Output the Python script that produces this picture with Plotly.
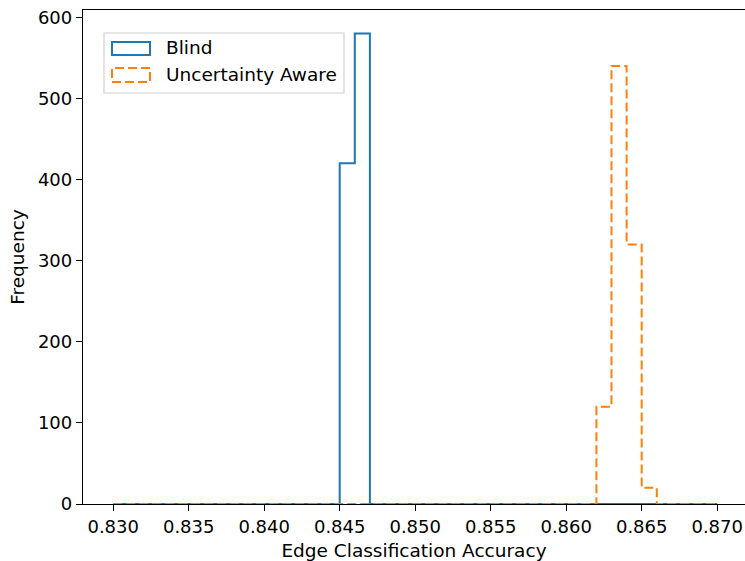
import numpy as np
import plotly.graph_objects as go

# Histogram bins (range 0.830-0.870, 40 bins of width 0.001)
bin_start = 0.830
bin_end = 0.870
n_bins = 40

# Non-zero bin counts: {bin left edge: count}
blind_counts = {0.845: 420, 0.846: 580}
aware_counts = {0.862: 120, 0.863: 540, 0.864: 320, 0.865: 20}

series_names = ["Blind", "Uncertainty Aware"]
x_tick_values = [0.830, 0.835, 0.840, 0.845, 0.850, 0.855, 0.860, 0.865, 0.870]
y_tick_values = [0, 100, 200, 300, 400, 500, 600]

edges = np.linspace(bin_start, bin_end, n_bins + 1)


def counts_array(d):
    c = np.zeros(n_bins)
    for left, v in d.items():
        i = int(round((left - bin_start) / (edges[1] - edges[0])))
        c[i] = v
    return c


def step_path(counts):
    xs = np.repeat(edges, 2)
    ys = np.concatenate([[0], np.repeat(counts, 2), [0]])
    return xs, ys


BLUE = "#1f77b4"
ORANGE = "#ff7f0e"
FONT = "DejaVu Sans"

fig = go.Figure()
bx, by = step_path(counts_array(blind_counts))
ax, ay = step_path(counts_array(aware_counts))
fig.add_trace(go.Scatter(x=bx, y=by, mode="lines", name=series_names[0],
                         line=dict(color=BLUE, width=2), showlegend=False,
                         hoverinfo="skip"))
fig.add_trace(go.Scatter(x=ax, y=ay, mode="lines", name=series_names[1],
                         line=dict(color=ORANGE, width=2, dash="9px,4px"),
                         showlegend=False, hoverinfo="skip"))

L, T, W, H = 83, 10, 745, 561
B = 57
pw = W - L
ph = H - T - B


def px(x):
    return (x - L) / pw


def py(y):
    return (H - B - y) / ph


# manual matplotlib-style legend
shapes = [
    dict(type="rect", xref="paper", yref="paper", x0=px(104), x1=px(344),
         y0=py(93), y1=py(33), line=dict(color="#d0d0d0", width=1.2),
         fillcolor="rgba(255,255,255,0.8)", layer="above"),
    dict(type="rect", xref="paper", yref="paper", x0=px(112), x1=px(150),
         y0=py(55), y1=py(42), line=dict(color=BLUE, width=2), layer="above"),
    dict(type="rect", xref="paper", yref="paper", x0=px(112), x1=px(150),
         y0=py(82), y1=py(68), line=dict(color=ORANGE, width=2, dash="9px,4px"),
         layer="above"),
]
annotations = [
    dict(xref="paper", yref="paper", x=px(164), y=py(48), text=series_names[0],
         showarrow=False, xanchor="left", yanchor="middle",
         font=dict(family=FONT, size=18.5, color="black")),
    dict(xref="paper", yref="paper", x=px(164), y=py(75), text=series_names[1],
         showarrow=False, xanchor="left", yanchor="middle",
         font=dict(family=FONT, size=18.5, color="black")),
]

fig.update_layout(
    width=W, height=H,
    margin=dict(l=L, r=0, t=T, b=B, autoexpand=False),
    plot_bgcolor="white", paper_bgcolor="white",
    font=dict(family=FONT, size=18, color="black"),
    shapes=shapes, annotations=annotations,
    xaxis=dict(
        range=[0.828, 0.828 + pw / 15100],
        tickvals=x_tick_values, tickformat=".3f",
        ticks="outside", ticklen=6, tickwidth=1.3, tickcolor="black",
        showline=True, linecolor="black", linewidth=1.3, mirror=True,
        showgrid=False, zeroline=False, automargin=False,
        layer="above traces",
        title=dict(text="Edge Classification Accuracy", standoff=9,
                   font=dict(size=18.5)),
        tickfont=dict(size=18),
    ),
    yaxis=dict(
        range=[0, 609],
        tickvals=y_tick_values,
        ticks="outside", ticklen=6, tickwidth=1.3, tickcolor="black",
        showline=True, linecolor="black", linewidth=1.3, mirror=False,
        showgrid=False, zeroline=False, automargin=False,
        layer="above traces",
        title=dict(text="Frequency", standoff=8, font=dict(size=18.5)),
        tickfont=dict(size=18),
    ),
)

fig.write_html("out.html",
               config={"displayModeBar": False},
               post_script="document.body.style.margin='0';"
                           "document.body.style.overflow='hidden';")
